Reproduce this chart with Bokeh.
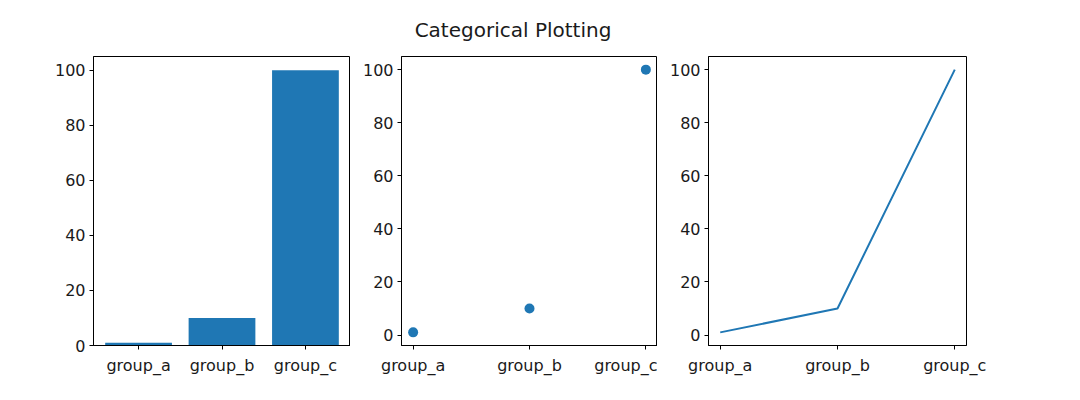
from bokeh.plotting import figure
from bokeh.layouts import row, column
from bokeh.models import Div, FixedTicker, Range1d
from bokeh.embed import file_html
from bokeh.resources import INLINE

categories = ["group_a", "group_b", "group_c"]
values = [1, 10, 100]
y_ticks = [0, 20, 40, 60, 80, 100]
title_text = "Categorical Plotting"

positions = list(range(len(categories)))
BLUE = "#1f77b4"
FONT = "DejaVu Sans"


def make_fig(x_range, y_range, border_left, border_right, fw):
    p = figure(
        x_range=x_range, y_range=y_range,
        frame_width=fw, frame_height=289,
        min_border_left=border_left, min_border_right=border_right,
        min_border_top=8, min_border_bottom=40,
        output_backend="svg", toolbar_location=None, tools="",
        background_fill_color="white", border_fill_color="white",
    )
    p.grid.visible = False
    p.outline_line_color = "black"
    p.outline_line_width = 1
    p.outline_line_alpha = 1
    for ax in (p.xaxis[0], p.yaxis[0]):
        ax.axis_line_color = "black"
        ax.axis_line_width = 1
        ax.major_tick_line_color = "black"
        ax.major_tick_in = 0
        ax.major_tick_out = 4
        ax.minor_tick_line_color = None
        ax.major_label_text_font = FONT
        ax.major_label_text_font_size = "16px"
        ax.major_label_text_color = "#1a1a1a"
        ax.major_label_standoff = 4
    p.xaxis.major_label_standoff = 6
    p.xaxis.ticker = FixedTicker(ticks=positions)
    p.xaxis.major_label_overrides = {i: c for i, c in zip(positions, categories)}
    p.yaxis.ticker = FixedTicker(ticks=y_ticks)
    return p


# bar
p1 = make_fig(Range1d(-0.54, 2.54), Range1d(0, 105), 93, 0, 257)
p1.vbar(x=positions, top=values, bottom=0, width=0.8, color=BLUE, line_color=None)

# scatter
p2 = make_fig(Range1d(-0.1, 2.1), Range1d(-3.95, 104.95), 51, 0, 256)
p2.scatter(x=positions, y=values, size=10, color=BLUE, line_color=None)

# line
p3 = make_fig(Range1d(-0.1, 2.1), Range1d(-3.95, 104.95), 51, 40, 258)
p3.line(x=positions, y=values, color=BLUE, line_width=2)

title = Div(
    text=title_text, width=1026, height=48,
    styles={"font-family": FONT, "font-size": "20px", "text-align": "center",
            "line-height": "60px", "color": "#1a1a1a", "width": "1026px"},
    margin=(0, 0, 0, 0),
)

layout = column(title, row(p1, p2, p3, spacing=0), spacing=0)

open("out.html", "w").write(file_html(layout, INLINE))
